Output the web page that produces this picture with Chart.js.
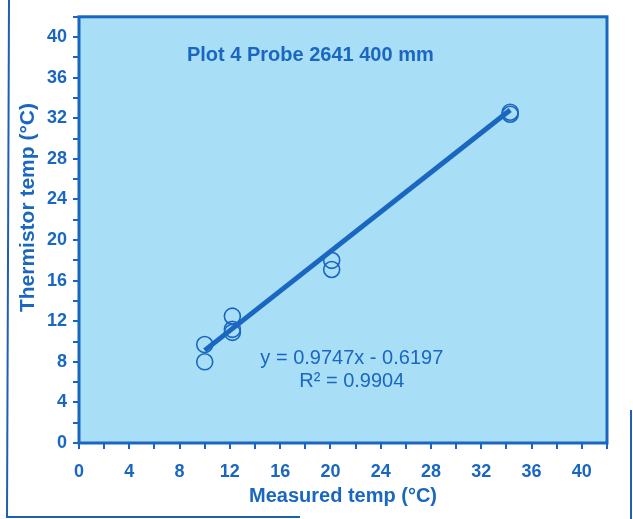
<!DOCTYPE html>
<html>
<head>
<meta charset="utf-8">
<script src="https://cdn.jsdelivr.net/npm/chart.js@4/dist/chart.umd.min.js"></script>
<style>
  html, body { margin: 0; padding: 0; background: #ffffff; }
  #wrap { position: relative; width: 633px; height: 519px; }
</style>
</head>
<body>
<div id="wrap"><canvas id="c" width="633" height="519"></canvas></div>
<script>
// ---- data ----
const measuredTemp   = [10.0, 10.0, 12.2, 12.2, 12.2, 20.1, 20.1, 34.3, 34.3];
const thermistorTemp = [9.7, 8.0, 12.5, 11.2, 10.9, 18.0, 17.1, 32.4, 32.6];
const trendX = [10.0, 34.3];
const trendY = [9.13, 32.82];
const axisTicks = [0, 4, 8, 12, 16, 20, 24, 28, 32, 36, 40];
const chartTitle = 'Plot 4 Probe 2641 400 mm';
const equationLines = ['y = 0.9747x - 0.6197', 'R\u00B2 = 0.9904'];
const xTitle = 'Measured temp (\u00B0C)';
const yTitle = 'Thermistor temp (\u00B0C)';

const BLUE = '#1a67c2';
const BG = '#a9def7';
const FONT = "'Liberation Sans', Arial, sans-serif";

const scatterPts = measuredTemp.map((x, i) => ({ x: x, y: thermistorTemp[i] }));
const trendPts = trendX.map((x, i) => ({ x: x, y: trendY[i] }));

const decor = {
  id: 'decor',
  beforeDraw(chart) {
    const { ctx, chartArea: a } = chart;
    ctx.save();
    ctx.fillStyle = BG;
    ctx.fillRect(a.left, a.top, a.right - a.left, a.bottom - a.top);
    // outer frame lines of the scanned page
    ctx.strokeStyle = '#1f5fb0';
    ctx.lineWidth = 2;
    ctx.beginPath();
    ctx.moveTo(9, 0); ctx.lineTo(7, 517); ctx.lineTo(300, 517);
    ctx.moveTo(631, 410); ctx.lineTo(631, 519);
    ctx.stroke();
    ctx.restore();
  },
  afterDatasetsDraw(chart) {
    const { ctx, chartArea: a, scales } = chart;
    ctx.save();
    ctx.strokeStyle = BLUE;
    ctx.lineWidth = 3;
    ctx.strokeRect(a.left, a.top, a.right - a.left, a.bottom - a.top);
    ctx.fillStyle = BLUE;
    ctx.textAlign = 'center';
    ctx.textBaseline = 'middle';
    ctx.font = "bold 20px " + FONT;
    ctx.fillText(chartTitle, scales.x.getPixelForValue(18.4), scales.y.getPixelForValue(38.2));
    ctx.font = "20px " + FONT;
    ctx.fillText(equationLines[0], scales.x.getPixelForValue(21.7), scales.y.getPixelForValue(8.3));
    ctx.fillText(equationLines[1], scales.x.getPixelForValue(21.7), scales.y.getPixelForValue(6.1));
    // y-axis title (placed off-centre as in the reference)
    ctx.translate(28, scales.y.getPixelForValue(23.2));
    ctx.rotate(-Math.PI / 2);
    ctx.font = "bold 21px " + FONT;
    ctx.fillText(yTitle, 0, 0);
    ctx.restore();
  }
};

new Chart(document.getElementById('c'), {
  type: 'scatter',
  data: {
    datasets: [
      {
        data: trendPts,
        showLine: true,
        borderColor: BLUE,
        borderWidth: 5,
        pointRadius: 0,
        fill: false
      },
      {
        data: scatterPts,
        pointStyle: 'circle',
        pointRadius: 8,
        pointBorderWidth: 1.6,
        pointBorderColor: BLUE,
        pointBackgroundColor: 'rgba(0,0,0,0)'
      }
    ]
  },
  options: {
    responsive: false,
    animation: false,
    devicePixelRatio: 1,
    layout: { padding: { top: 12, right: 26, left: 16, bottom: 11 } },
    plugins: { legend: { display: false }, tooltip: { enabled: false } },
    scales: {
      x: {
        type: 'linear', min: 0, max: 42,
        afterFit(s) { s.height = 65; },
        afterBuildTicks(s) { const t = []; for (let v = 0; v <= 42; v += 2) t.push({ value: v }); s.ticks = t; },
        ticks: {
          autoSkip: false, maxRotation: 0, padding: 12,
          color: BLUE, font: { family: FONT, size: 18, weight: 'bold' },
          callback: v => axisTicks.includes(v) ? String(v) : ''
        },
        grid: { drawOnChartArea: false, drawTicks: true, tickLength: 6, color: BLUE, lineWidth: 2 },
        border: { display: false },
        title: { display: true, text: xTitle, color: BLUE, font: { family: FONT, size: 20, weight: 'bold' }, padding: { top: 0, bottom: 0 } }
      },
      y: {
        type: 'linear', min: 0, max: 42,
        afterFit(s) { s.width = 63; },
        afterBuildTicks(s) { const t = []; for (let v = 0; v <= 42; v += 2) t.push({ value: v }); s.ticks = t; },
        ticks: {
          autoSkip: false, padding: 6,
          color: BLUE, font: { family: FONT, size: 18, weight: 'bold' },
          callback: v => axisTicks.includes(v) ? String(v) : ''
        },
        grid: { drawOnChartArea: false, drawTicks: true, tickLength: 6, color: BLUE, lineWidth: 2 },
        border: { display: false },
        title: { display: false }
      }
    }
  },
  plugins: [decor]
});
</script>
</body>
</html>
